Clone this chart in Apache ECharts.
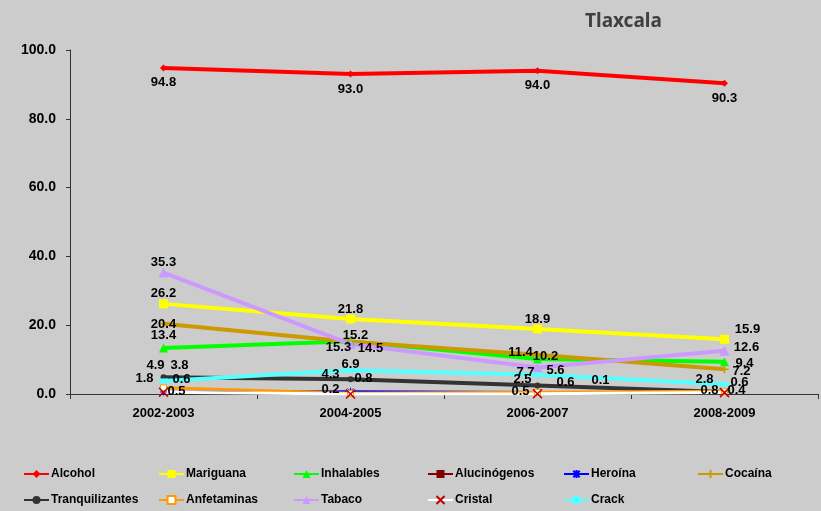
<!DOCTYPE html>
<html>
<head>
<meta charset="utf-8">
<script src="https://cdn.jsdelivr.net/npm/echarts@6/dist/echarts.min.js"></script>
<style>
  html, body { margin: 0; padding: 0; background: #cccccc; }
  #chart { width: 821px; height: 511px; }
</style>
</head>
<body>
<div id="chart"></div>
<script>
// datos
const categories = ['2002-2003', '2004-2005', '2006-2007', '2008-2009']
const yTicks = [0, 20, 40, 60, 80, 100]

const alcohol = [94.8, 93.0, 94.0, 90.3]
const mariguana = [26.2, 21.8, 18.9, 15.9]
const inhalables = [13.4, 15.3, 10.2, 9.4]
const alucinogenos = [null, null, null, null]
const heroina = [0.6, 0.8, 0.6, null]
const cocaina = [20.4, 15.2, 11.4, 7.2]
const tranquilizantes = [4.9, 4.3, 2.5, 0.6]
const anfetaminas = [1.8, 0.2, 0.5, 0.8]
const tabaco = [35.3, 14.5, 7.7, 12.6]
const cristal = [0.5, 0.0, 0.1, 0.4]
const crack = [3.8, 6.9, 5.6, 2.8]

const FONT = 'Liberation Sans, Arial, sans-serif'

// desplazamiento de las etiquetas (respecto a 'top'), null = sin etiqueta
function mk(values, offs) {
    return values.map((v, i) => ({
        value: v,
        label: { show: v != null && offs[i] != null, offset: offs[i] || [0, 0] },
    }))
}

function serie(name, values, offs, color, opts) {
    return Object.assign({
        name,
        type: 'line',
        data: mk(values, offs),
        symbolSize: 8,
        lineStyle: { width: 4, color },
        itemStyle: { color },
        label: {
            position: 'top',
            distance: -1,
            color: '#000',
            fontWeight: 'bold',
            fontSize: 13,
            fontFamily: FONT,
            formatter: p => p.value.toFixed(1),
        },
        emphasis: { disabled: true },
    }, opts || {})
}

const series = [
    serie('Alcohol', alcohol, [[0, 0], [0, 0], [0, 0], [0, 0]], '#ff0000', {
        symbol: 'diamond', symbolSize: 7,
        label: { position: 'bottom', distance: 5, color: '#000', fontWeight: 'bold', fontSize: 13, fontFamily: FONT, formatter: p => p.value.toFixed(1) },
    }),
    serie('Mariguana', mariguana, [[0, 0], [0, 0], [0, 0], [23, 0]], '#ffff00', { symbol: 'rect', symbolSize: 9 }),
    serie('Inhalables', inhalables, [[0, -2], [-12, 16], [8, 8], [20, 12]], '#00ff00', { symbol: 'triangle', symbolSize: 9 }),
    serie('Alucinógenos', alucinogenos, [null, null, null, null], '#800000', { symbol: 'rect', symbolSize: 8 }),
    serie('Heroína', heroina, [[18, -3], [13, -3], [28, 0], null], '#0000ff', {
        symbol: 'path://M5,0L5,10M0,5L10,5M1,1L9,9M9,1L1,9', symbolSize: 7,
        lineStyle: { width: 2, color: '#0000ff' },
        itemStyle: { color: '#0000ff', borderColor: '#0000ff', borderWidth: 1 },
    }),
    serie('Cocaína', cocaina, [[0, 11], [5, 4], [-17, 8], [17, 12]], '#cc9900', {
        symbol: 'path://M5,0L5,10M0,5L10,5', symbolSize: 8,
        itemStyle: { color: '#cc9900', borderColor: '#cc9900', borderWidth: 1.5 },
    }),
    serie('Tranquilizantes', tranquilizantes, [[-8, -3], [-20, 4], [-15, 3], [15, -1]], '#333333', { symbol: 'circle', symbolSize: 6 }),
    serie('Anfetaminas', anfetaminas, [[-19, 0], [-20, 5], [-17, 8], [-15, 8]], '#ff9900', {
        symbol: 'rect', symbolSize: 6,
        lineStyle: { width: 3, color: '#ff9900' },
        itemStyle: { color: '#ffffff', borderColor: '#ff9900', borderWidth: 1 },
    }),
    serie('Tabaco', tabaco, [[0, 0], [20, 15], [-12, 15], [22, 7]], '#cc99ff', { symbol: 'triangle', symbolSize: 10 }),
    serie('Cristal', cristal, [[13, 10], null, [63, -2], [12, 9]], '#ffffff', {
        symbol: 'path://M0,0L10,10M10,0L0,10', symbolSize: 9,
        lineStyle: { width: 3, color: '#ffffff' },
        itemStyle: { color: '#ffffff', borderColor: '#c00000', borderWidth: 1.5 },
    }),
    serie('Crack', crack, [[16, -8], [0, 2], [18, 4], [-20, 3]], '#55ffff', { symbol: 'rect', symbolSize: [9, 5] }),
]

// leyenda en 6 columnas de 2 filas
const legendCols = [
    ['Alcohol', 'Tranquilizantes'],
    ['Mariguana', 'Anfetaminas'],
    ['Inhalables', 'Tabaco'],
    ['Alucinógenos', 'Cristal'],
    ['Heroína', 'Crack'],
    ['Cocaína'],
]
const legendLeft = [23, 158, 293, 427, 563, 697]

const legend = legendCols.map((names, i) => ({
    data: names,
    orient: 'vertical',
    left: legendLeft[i],
    top: 468,
    itemWidth: 25,
    itemHeight: 10,
    itemGap: 14,
    padding: 0,
    selectedMode: false,
    textStyle: { color: '#000', fontWeight: 'bold', fontSize: 12, fontFamily: FONT, padding: [0, 0, 0, -3] },
}))

let chart = echarts.init(document.getElementById('chart'))
let option = {
    backgroundColor: '#cccccc',
    animation: false,
    title: {
        text: 'Tlaxcala',
        left: 580,
        top: 7,
        textStyle: { color: '#404040', fontSize: 19, fontWeight: 'bold', fontFamily: 'Noto Sans, sans-serif' },
    },
    legend,
    grid: { left: 70, right: 3, top: 50, bottom: 117 },
    xAxis: {
        type: 'category',
        data: categories,
        boundaryGap: true,
        axisLine: { lineStyle: { color: '#333', width: 1 } },
        axisTick: { show: true, length: 5, lineStyle: { color: '#333' } },
        axisLabel: { color: '#000', fontWeight: 'bold', fontSize: 13, fontFamily: FONT, margin: 13 },
    },
    yAxis: {
        type: 'value',
        min: yTicks[0],
        max: yTicks[yTicks.length - 1],
        interval: 20,
        splitLine: { show: false },
        axisLine: { show: true, lineStyle: { color: '#333', width: 1 } },
        axisTick: { show: true, length: 4, lineStyle: { color: '#333' } },
        axisLabel: { color: '#000', fontWeight: 'bold', fontSize: 14, fontFamily: FONT, margin: 14, formatter: v => v.toFixed(1) },
    },
    series,
}

chart.setOption(option)
</script>
</body>
</html>
